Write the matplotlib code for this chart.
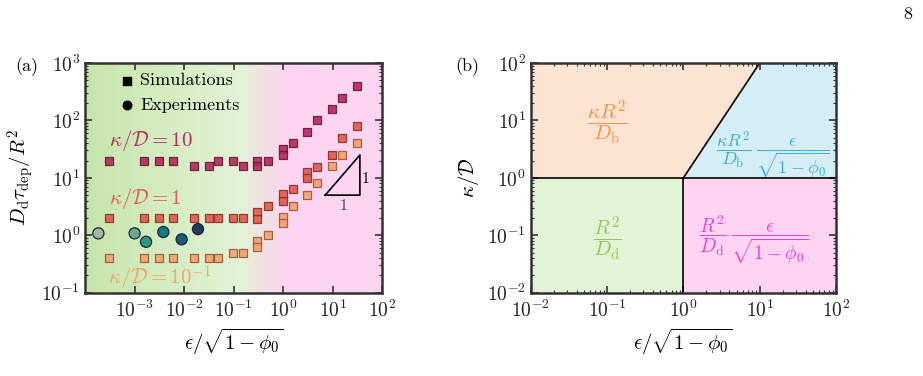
import numpy as np
import matplotlib
matplotlib.use('Agg')
import matplotlib.pyplot as plt
from matplotlib.colors import LinearSegmentedColormap

plt.rcParams['font.family'] = 'serif'
plt.rcParams['font.serif'] = ['cmr10', 'DejaVu Serif']
plt.rcParams['mathtext.fontset'] = 'cm'
plt.rcParams['axes.formatter.use_mathtext'] = True
plt.rcParams['axes.unicode_minus'] = False

# --- panel (a) data ---
x_k10 = [3.1e-4, 1.55e-3, 3.1e-3, 6e-3, 0.016, 0.031, 0.049, 0.098, 0.155,
         0.30, 0.30, 0.48, 1.0, 1.0, 1.55, 3.0, 4.8, 9.7, 15, 30]
y_k10 = [20, 20, 20, 20, 16, 16, 20, 20, 16,
         20, 16, 20, 32, 25, 40, 63, 100, 160, 250, 400]

x_k1 = [3.1e-4, 1.55e-3, 3.1e-3, 6e-3, 0.016, 0.031, 0.049, 0.098, 0.155,
        0.30, 0.30, 0.48, 1.0, 1.0, 1.55, 3.0, 3.0, 4.8, 9.7, 15, 30]
y_k1 = [2, 2, 2, 2, 2, 2, 2, 2, 2,
        2.5, 1.95, 3.2, 5.2, 4.0, 6.3, 12.8, 10, 15.6, 25, 50, 80]

x_k01 = [3.1e-4, 1.55e-3, 3.1e-3, 6e-3, 0.016, 0.031, 0.049, 0.098, 0.155,
         0.30, 0.30, 0.48, 1.0, 1.0, 1.55, 3.0, 4.8, 9.7, 15, 30]
y_k01 = [0.4, 0.4, 0.4, 0.4, 0.4, 0.4, 0.4, 0.5, 0.5,
         0.8, 0.63, 1.0, 2.1, 1.65, 3.2, 5.0, 8.0, 16, 25, 40]

x_exp = [1.86e-4, 1.0e-3, 1.7e-3, 3.8e-3, 8.9e-3, 0.019]
y_exp = [1.08, 1.08, 0.77, 1.14, 0.85, 1.28]
c_exp = ['#9fb9a1', '#68a88c', '#2b9a80', '#137a7c', '#1d5a72', '#1c3a5a']

tri_x = [7, 35, 35, 7]
tri_y = [5, 5, 25, 5]

# --- panel (b) boundaries ---
bx = [1e-2, 1, 10, 1e2]
by = [1e-2, 1, 1e2]

C_K10, C_K1, C_K01 = '#b32b5e', '#e35a4c', '#f5a16e'
E_K10, E_K1, E_K01 = '#6e1a3a', '#8a3328', '#9a5c38'

fig = plt.figure(figsize=(9.23, 3.76), dpi=100)
ax1 = fig.add_axes([0.0921, 0.2215, 0.3223, 0.611])
ax2 = fig.add_axes([0.575, 0.2215, 0.3308, 0.611])

# gradient background for (a)
bg = LinearSegmentedColormap.from_list('bg', [
    (0.0, '#c6e5aa'), (0.52, '#e2f3d6'), (0.60, '#f1e1e3'),
    (0.67, '#fdd5f2'), (1.0, '#fdd5f2')])
grad = np.linspace(0, 1, 512).reshape(1, -1)
ax1.imshow(grad, cmap=bg, extent=[0, 1, 0, 1], transform=ax1.transAxes,
           aspect='auto', zorder=0)

sq = dict(marker='s', s=28, linewidths=0.9, alpha=0.92, zorder=3)
ax1.scatter(x_k10, y_k10, color=C_K10, edgecolors=E_K10, **sq)
ax1.scatter(x_k1, y_k1, color=C_K1, edgecolors=E_K1, **sq)
ax1.scatter(x_k01, y_k01, color=C_K01, edgecolors=E_K01, **sq)
ax1.scatter(x_exp, y_exp, c=c_exp, marker='o', s=64, edgecolors='#1a2540',
            linewidths=0.9, zorder=4)
ax1.plot(tri_x, tri_y, color='k', lw=1.2, zorder=3)
ax1.text(38, 9.5, '1', fontsize=11, va='center', ha='left')
ax1.text(16, 4.3, '1', fontsize=11, va='top', ha='center', color='#444444')

ax1.text(3e-4, 27, r'$\kappa/\mathcal{D}=10$', color=C_K10, fontsize=15,
         va='bottom', ha='left')
ax1.text(3e-4, 2.7, r'$\kappa/\mathcal{D}=1$', color=C_K1, fontsize=15,
         va='bottom', ha='left')
ax1.text(2.9e-4, 0.32, r'$\kappa/\mathcal{D}=10^{-1}$', color=C_K01, fontsize=15,
         va='top', ha='left')

ax1.scatter([], [], marker='s', color='k', s=30, label='Simulations')
ax1.scatter([], [], marker='o', color='k', s=38, label='Experiments')
ax1.legend(loc='upper left', bbox_to_anchor=(0.07, 1.02), frameon=False,
           fontsize=13, handlelength=0.8, handletextpad=0.3, labelspacing=0.5,
           borderaxespad=0.4)

ax1.set_xscale('log')
ax1.set_yscale('log')
ax1.set_xlim(1e-4, 1e2)
ax1.set_ylim(1e-1, 1e3)
ax1.set_xticks([1e-3, 1e-2, 1e-1, 1e0, 1e1, 1e2])
ax1.set_yticks([1e-1, 1e0, 1e1, 1e2, 1e3])
ax1.set_xlabel(r'$\epsilon/\sqrt{1-\phi_0}$', fontsize=15)
ax1.set_ylabel(r'$D_{\rm d}\tau_{\rm dep}/R^2$', fontsize=15)

# regime map for (b)
ax2.fill([bx[0], bx[1], bx[2], bx[0]], [by[1], by[1], by[2], by[2]],
         color='#fde3d1', lw=0, zorder=0)
ax2.fill([bx[1], bx[3], bx[3], bx[2]], [by[1], by[1], by[2], by[2]],
         color='#d5edf4', lw=0, zorder=0)
ax2.fill([bx[0], bx[1], bx[1], bx[0]], [by[0], by[0], by[1], by[1]],
         color='#e2f3d6', lw=0, zorder=0)
ax2.fill([bx[1], bx[3], bx[3], bx[1]], [by[0], by[0], by[1], by[1]],
         color='#fdd5f3', lw=0, zorder=0)
ax2.plot([bx[0], bx[3]], [by[1], by[1]], color='k', lw=1.2)
ax2.plot([bx[1], bx[1]], [by[0], by[1]], color='k', lw=1.2)
ax2.plot([bx[1], bx[2]], [by[1], by[2]], color='k', lw=1.2)

ax2.text(0.1, 9, r'$\dfrac{\kappa R^2}{D_{\rm b}}$', color='#f4924a',
         fontsize=15, ha='center', va='center')
ax2.text(15, 2.5, r'$\dfrac{\kappa R^2}{D_{\rm b}}\;\dfrac{\epsilon}{\sqrt{1-\phi_0}}$',
         color='#3cb0d2', fontsize=13, ha='center', va='center')
ax2.text(0.1, 0.085, r'$\dfrac{R^2}{D_{\rm d}}$', color='#8ccb58',
         fontsize=15, ha='center', va='center')
ax2.text(8.4, 0.085, r'$\dfrac{R^2}{D_{\rm d}}\;\dfrac{\epsilon}{\sqrt{1-\phi_0}}$',
         color='#f03fd2', fontsize=14, ha='center', va='center')

ax2.set_xscale('log')
ax2.set_yscale('log')
ax2.set_xlim(1e-2, 1e2)
ax2.set_ylim(1e-2, 1e2)
ax2.set_xlabel(r'$\epsilon/\sqrt{1-\phi_0}$', fontsize=15)
ax2.set_ylabel(r'$\kappa/\mathcal{D}$', fontsize=15)

for ax in (ax1, ax2):
    ax.tick_params(which='both', direction='in', top=True, right=True,
                   colors='#333333', labelcolor='#222222', labelsize=14)
    ax.tick_params(which='major', length=5, width=1.2)
    ax.tick_params(which='minor', length=2.5, width=0.8)
    ax.tick_params(axis='x', which='major', pad=5)
    for s in ax.spines.values():
        s.set_linewidth(1.8)
        s.set_color('#333333')
        s.set_zorder(5)

fig.text(15 / 923, 1 - 67 / 376, '(a)', fontsize=13, va='center', ha='left')
fig.text(455 / 923, 1 - 67 / 376, '(b)', fontsize=13, va='center', ha='left')
fig.text(908 / 923, 1 - 14 / 376, '8', fontsize=13, va='center', ha='center')

fig.savefig('out.png', dpi=100)
